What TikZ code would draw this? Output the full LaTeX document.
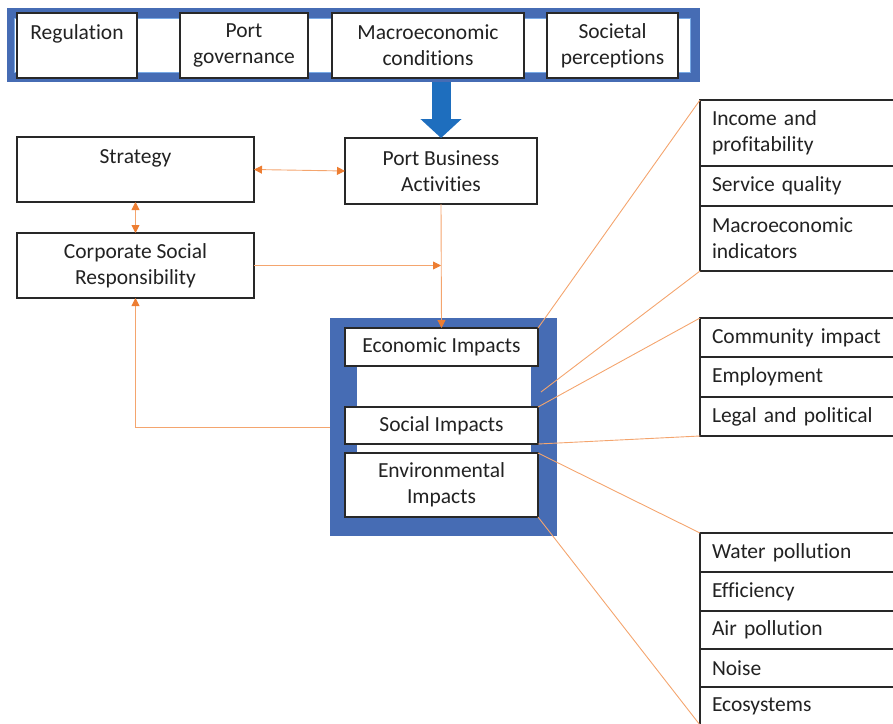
\documentclass[tikz,border=0pt]{standalone}
\usepackage{fontspec}
\setmainfont{Carlito}[Ligatures=NoCommon]
\usetikzlibrary{arrows.meta,positioning,calc}
\definecolor{framebl}{RGB}{70,108,180}
\definecolor{arrowbl}{RGB}{30,110,190}
\definecolor{edgebl}{RGB}{120,170,230}
\definecolor{linkor}{RGB}{244,165,110}
\definecolor{tipor}{RGB}{237,125,49}
\definecolor{boxline}{RGB}{40,40,40}
\definecolor{txt}{RGB}{34,34,34}

\begin{document}
\begin{tikzpicture}[x=1pt,y=-1pt,
  every node/.style={inner sep=0pt,outer sep=0pt,font=\fontsize{21.5}{26}\selectfont,text=txt},
  box/.style={draw=boxline,line width=1.2pt,fill=white,align=center,anchor=north west},
  item/.style={draw=boxline,line width=1.2pt,fill=white,align=left,text width=176pt,inner xsep=12pt,minimum height=39pt},
  frame/.style={fill=framebl,anchor=north west},
  link/.style={draw=linkor,line width=0.9pt},
  arrow/.style={link,-{Triangle[length=8pt,width=8pt,color=tipor]}},
  twoway/.style={link,{Triangle[length=8pt,width=8pt,color=tipor]}-{Triangle[length=8pt,width=8pt,color=tipor]}},
  bigarrow/.style={arrowbl,line width=19pt,-{Triangle[length=19pt,width=40pt]}}
]
  \useasboundingbox (0,0) rectangle (893,723);
  \node[frame,minimum width=693pt,minimum height=74pt] (band) at (7,8) {};
  \draw[draw=edgebl,fill=white,line width=1pt] (14,18) rectangle (690,72);
  \node[box,minimum width=120pt,minimum height=65pt] (reg) at (17,13) {Regulation\\~};
  \node[box,minimum width=128pt,minimum height=65pt] (gov) at (180,13) {Port\\governance};
  \node[box,minimum width=192pt,minimum height=65pt] (macro) at (332,13) {Macroeconomic\\conditions};
  \node[box,minimum width=131pt,minimum height=65pt] (soc) at (547,13) {Societal\\perceptions};

  \node[box,minimum width=237pt,minimum height=65pt] (strat) at (17,137) {Strategy\\~};
  \node[box,minimum width=192pt,minimum height=66pt] (pba) at (345,138) {Port Business\\Activities};
  \node[box,minimum width=237pt,minimum height=65pt] (csr) at (17,233) {Corporate Social\\Responsibility};

  \node[frame,minimum width=227pt,minimum height=218pt] (impact) at (330,318) {};
  \fill[white] (357,340) rectangle (531,455);
  \node[box,minimum width=193pt,minimum height=38pt] (econ) at (345,328) {Economic Impacts};
  \node[box,minimum width=193pt,minimum height=37pt] (social) at (345,407) {Social Impacts};
  \node[box,minimum width=193pt,minimum height=64pt] (env) at (345,453) {Environmental\\Impacts};

  \node[item,anchor=north west,minimum height=66pt] (income) at (700,100) {Income and\\profitability};
  \node[item,below=0pt of income,minimum height=40pt] (service) {Service quality};
  \node[item,below=0pt of service,minimum height=65pt] (indic) {Macroeconomic\\indicators};

  \node[item,anchor=north west] (commun) at (700,318) {Community impact};
  \node[item,below=0pt of commun,minimum height=40pt] (employ) {Employment};
  \node[item,below=0pt of employ] (legal) {Legal and political};

  \node[item,anchor=north west] (water) at (700,533) {Water pollution};
  \node[item,below=0pt of water] (effic) {Efficiency};
  \node[item,below=0pt of effic,minimum height=38pt] (air) {Air pollution};
  \node[item,below=0pt of air,minimum height=38pt] (noise) {Noise};
  \node[item,below=0pt of noise,minimum height=38pt] (ecosys) {Ecosystems};

  \draw[bigarrow] (band.south -| pba.north) -- (pba.north);
  \draw[twoway] (strat.east) -- (pba.west);
  \draw[twoway] (strat.south) -- (csr.north);
  \draw[arrow] (csr.east) -- (csr.east -| pba.south);
  \draw[arrow] (pba.south) -- (econ.north);
  \draw[arrow] (impact.west) -| (csr.south);

  \coordinate (econtail) at (541,392);
  \draw[link] (econ.north east) -- (income.north west);
  \draw[link] (econtail) -- (indic.south west);
  \draw[link] (social.north east) -- (commun.north west);
  \draw[link] (social.south east) -- (legal.south west);
  \draw[link] (env.north east) -- (water.north west);
  \draw[link] (env.south east) -- (ecosys.south west);
\end{tikzpicture}
\end{document}
